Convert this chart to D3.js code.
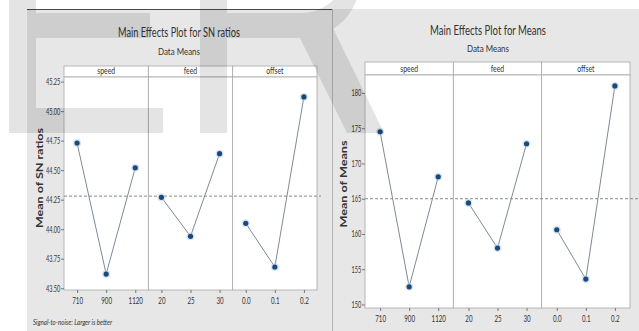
<!DOCTYPE html>
<html>
<head>
<meta charset="utf-8">
<script src="https://cdn.jsdelivr.net/npm/d3@7"></script>
<style>
  html, body { margin: 0; padding: 0; background: #ffffff; }
  svg { display: block; }
  text { font-family: Lato, "Open Sans", "Liberation Sans", sans-serif; fill: #333; }
</style>
</head>
<body>
<svg id="chart" width="639" height="331"></svg>
<script>
// ---------- data ----------
const factors = ["speed", "feed", "offset"];
const speedLevels = ["710", "900", "1120"];
const feedLevels = ["20", "25", "30"];
const offsetLevels = ["0.0", "0.1", "0.2"];
const levels = [speedLevels, feedLevels, offsetLevels];

const snSpeed = [44.73, 43.62, 44.52];
const snFeed = [44.27, 43.94, 44.64];
const snOffset = [44.05, 43.68, 45.12];
const snGrandMean = 44.28;
const snTicks = [43.50, 43.75, 44.00, 44.25, 44.50, 44.75, 45.00, 45.25];

const meanSpeed = [174.5, 152.5, 168.1];
const meanFeed = [164.4, 158.0, 172.8];
const meanOffset = [160.6, 153.6, 181.0];
const meansGrandMean = 165.0;
const meanTicks = [150, 155, 160, 165, 170, 175, 180];

// ---------- drawing ----------
const svg = d3.select("#chart");

function scaledText(g, x, y, str, opts) {
  const t = g.append("text")
    .attr("transform", `translate(${x},${y}) scale(${opts.sx || 1},1)`)
    .attr("text-anchor", opts.anchor || "middle")
    .style("font-size", opts.size + "px")
    .text(str);
  if (opts.weight) t.style("font-weight", opts.weight);
  if (opts.italic) t.style("font-style", "italic");
  return t;
}
function fitText(g, x, y, str, opts) {
  const t = g.append("text")
    .attr("x", x).attr("y", y)
    .attr("text-anchor", opts.anchor || "middle")
    .attr("textLength", opts.len)
    .attr("lengthAdjust", "spacingAndGlyphs")
    .style("font-size", opts.size + "px")
    .text(str);
  if (opts.weight) t.style("font-weight", opts.weight);
  if (opts.italic) t.style("font-style", "italic");
  if (opts.rotate) t.attr("transform", `rotate(-90,${x},${y})`);
  return t;
}

function mainEffects(cfg) {
  const g = svg.append("g");
  // panel background
  g.append("rect").attr("x", cfg.bg[0]).attr("y", cfg.bg[1])
    .attr("width", cfg.bg[2]).attr("height", cfg.bg[3]).attr("fill", "#e7e7e7");

  fitText(g, cfg.titleX, cfg.titleY, cfg.title, { size: 13, len: cfg.titleLen });
  fitText(g, cfg.titleX, cfg.subY, "Data Means", { size: 9.5, len: 42 });

  const y = d3.scaleLinear().domain(cfg.yDomain).range([cfg.bottom, cfg.top]);
  const panelX = d3.scaleBand().domain(factors).range([cfg.left, cfg.right]).padding(0);
  const pw = panelX.bandwidth();

  // strips
  factors.forEach(f => {
    const x0 = panelX(f);
    g.append("rect").attr("x", x0).attr("y", cfg.stripTop)
      .attr("width", pw).attr("height", cfg.top - cfg.stripTop)
      .attr("fill", "#ffffff").attr("stroke", "#a8a8a8").attr("stroke-width", 0.8);
    scaledText(g, x0 + pw / 2, cfg.top - 3, f, { size: 9.5, sx: 0.72 });
  });
  // plot area
  factors.forEach(f => {
    g.append("rect").attr("x", panelX(f)).attr("y", cfg.top)
      .attr("width", pw).attr("height", cfg.bottom - cfg.top)
      .attr("fill", "#ffffff").attr("stroke", "#a8a8a8").attr("stroke-width", 0.8);
  });

  // y axis
  const yAxis = g.append("g").attr("transform", `translate(${cfg.left},0)`)
    .call(d3.axisLeft(y).tickValues(cfg.ticks).tickFormat(cfg.fmt).tickSize(3).tickPadding(3));
  yAxis.select(".domain").remove();
  yAxis.selectAll(".tick line").attr("stroke", "#777");
  yAxis.selectAll("text").attr("transform", "scale(0.62,1)")
    .style("font-size", "9px").attr("fill", "#444");

  // y axis title
  fitText(g, cfg.yTitleX, cfg.yTitleY, cfg.yTitle, { size: 10, len: cfg.yTitleLen, weight: "bold", rotate: true });

  // mean reference line
  g.append("line").attr("x1", cfg.left).attr("x2", cfg.dashEnd)
    .attr("y1", y(cfg.grand)).attr("y2", y(cfg.grand))
    .attr("stroke", "#8a8a8a").attr("stroke-width", 1).attr("stroke-dasharray", "3,2");

  // panels
  factors.forEach((f, i) => {
    const x = d3.scalePoint().domain(levels[i])
      .range([panelX(f), panelX(f) + pw]).padding(cfg.pad);
    const vals = cfg.values[i];
    const pts = levels[i].map((l, j) => ({ l, v: vals[j] }));

    const xAxis = g.append("g").attr("transform", `translate(0,${cfg.bottom})`)
      .call(d3.axisBottom(x).tickSize(3).tickPadding(cfg.xPad));
    xAxis.select(".domain").remove();
    xAxis.selectAll(".tick line").attr("stroke", "#777");
    xAxis.selectAll("text").attr("transform", "scale(0.62,1)")
      .style("font-size", "10px").attr("fill", "#444");

    g.append("path").datum(pts)
      .attr("d", d3.line().x(d => x(d.l)).y(d => y(d.v)))
      .attr("fill", "none").attr("stroke", "#7d8a95").attr("stroke-width", 1);
    g.selectAll(null).data(pts).enter().append("circle")
      .attr("cx", d => x(d.l)).attr("cy", d => y(d.v)).attr("r", 4)
      .attr("fill", "#bcd3e8").attr("opacity", 0.6);
    g.selectAll(null).data(pts).enter().append("circle")
      .attr("cx", d => x(d.l)).attr("cy", d => y(d.v)).attr("r", 2.6)
      .attr("fill", "#1a4a7c");
  });
  return g;
}

// left chart: SN ratios
const left = mainEffects({
  bg: [27, 10, 306, 321],
  title: "Main Effects Plot for SN ratios", titleX: 179, titleY: 37, titleLen: 122, subY: 55,
  left: 64, right: 317, top: 77, bottom: 290, stripTop: 66,
  yDomain: [43.485, 45.289], ticks: snTicks, fmt: d3.format(".2f"),
  yTitle: "Mean of SN ratios", yTitleX: 43, yTitleY: 178, yTitleLen: 100,
  grand: snGrandMean, dashEnd: 321, pad: 0.45, xPad: 4,
  values: [snSpeed, snFeed, snOffset]
});
left.append("line").attr("x1", 27).attr("x2", 333).attr("y1", 9.5).attr("y2", 9.5)
  .attr("stroke", "#4a4a4a").attr("stroke-width", 1.2);
fitText(left, 33, 325, "Signal-to-noise: Larger is better", { size: 8.5, len: 79, anchor: "start", italic: true });

// right chart: Means
const right = mainEffects({
  bg: [333, 9, 306, 322],
  title: "Main Effects Plot for Means", titleX: 488, titleY: 35, titleLen: 116, subY: 52,
  left: 365, right: 630, top: 75, bottom: 308, stripTop: 62,
  yDomain: [149.5, 182.55], ticks: meanTicks, fmt: d3.format("d"),
  yTitle: "Mean of Means", yTitleX: 347, yTitleY: 184, yTitleLen: 87,
  grand: meansGrandMean, dashEnd: 639, pad: 0.52, xPad: 4,
  values: [meanSpeed, meanFeed, meanOffset]
});
svg.append("line").attr("x1", 332.5).attr("x2", 332.5).attr("y1", 9).attr("y2", 331)
  .attr("stroke", "#b5b5b5").attr("stroke-width", 1);

// watermark (light translucent letters)
const wm = svg.append("g").attr("fill", "#000").attr("opacity", 0.1).style("pointer-events", "none");
// "E"
wm.append("path").attr("d", "M9,0 H36 V13 H150 V38 H36 V108 H163 V133 H9 Z");
// "R"
wm.append("path").attr("d", "M200,0 H227 V133 H200 Z");
wm.append("path").attr("d", "M227,13 H300 A45,45 0 0 0 345,-20 H360 A58,58 0 0 1 300,38 H227 Z")
  ;
wm.append("path").attr("d", "M292,22 L330,22 L384,133 L347,133 Z");
</script>
</body>
</html>
